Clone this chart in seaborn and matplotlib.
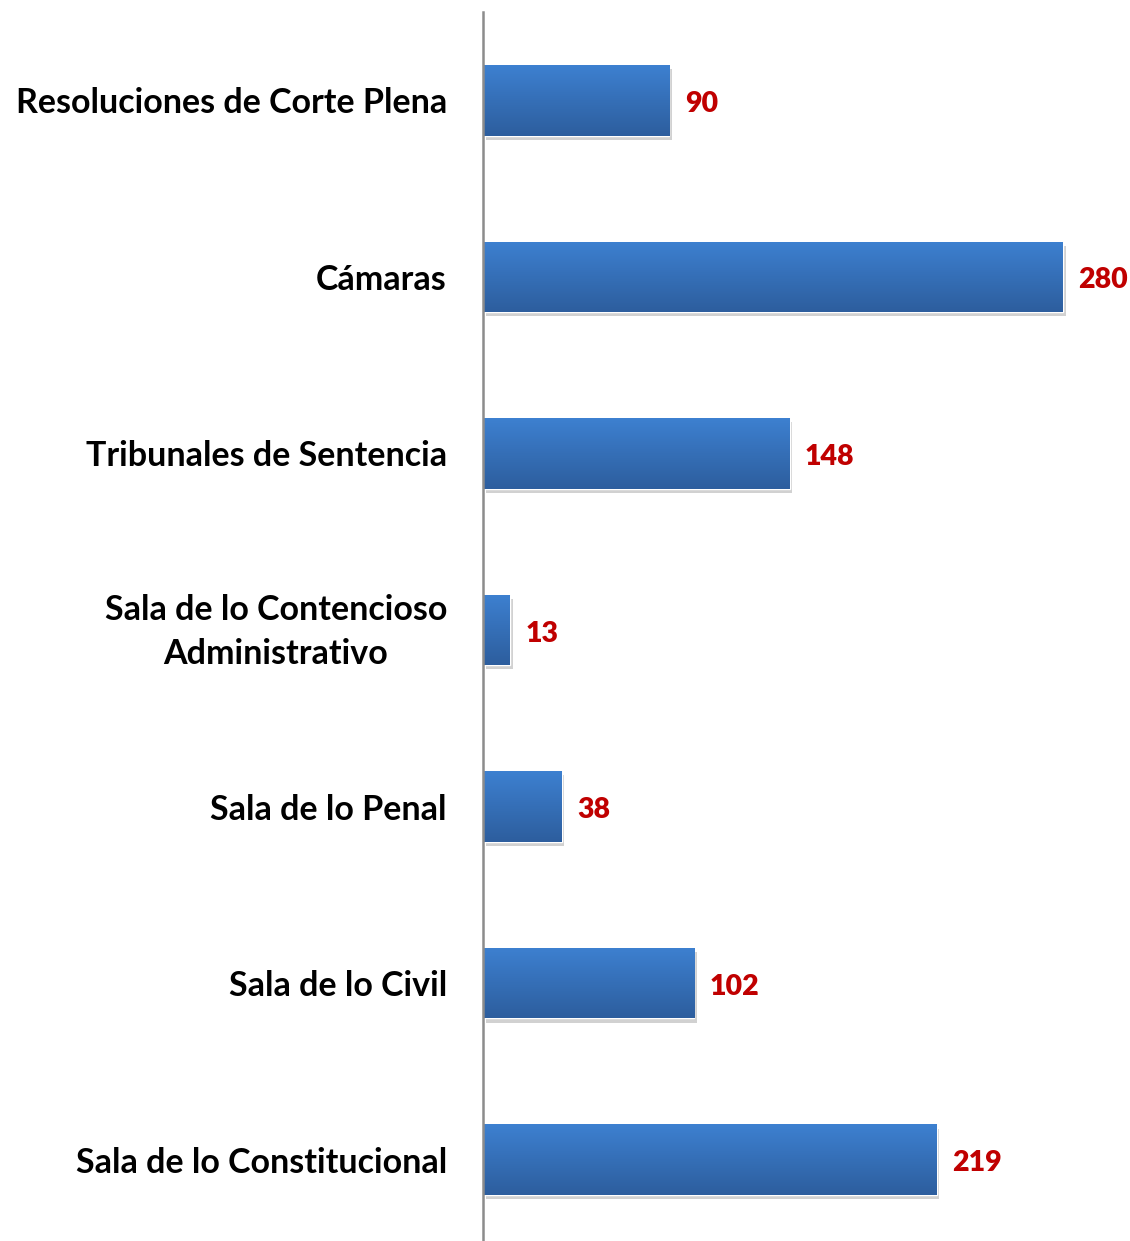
import matplotlib
matplotlib.use("Agg")
import matplotlib.pyplot as plt
import matplotlib.patheffects as pe
import matplotlib.transforms as mtrans
import numpy as np
import pandas as pd
import seaborn as sns

# ─── Data ─────────────────────────────────────────────────────────────────────
categories = [
    "Resoluciones de Corte Plena",
    "Cámaras",
    "Tribunales de Sentencia",
    "Sala de lo Contencioso\nAdministrativo",
    "Sala de lo Penal",
    "Sala de lo Civil",
    "Sala de lo Constitucional",
]
values = [90, 280, 148, 13, 38, 102, 219]

df = pd.DataFrame({"categoria": categories, "valor": values})

sns.set_style("white")
plt.rcParams["font.family"] = ["Lato", "DejaVu Sans"]

fig = plt.figure(figsize=(11.3, 12.41), dpi=100)
ax = fig.add_axes([483 / 1130, -7 / 1241, 1 - 483 / 1130, (1241 - 12 + 7) / 1241])

sns.barplot(data=df, x="valor", y="categoria", orient="h", color="#3a78c6",
            width=0.4, ax=ax, saturation=1)

# gradient fill + soft shadow on each bar
grad = np.linspace(0, 1, 64).reshape(-1, 1)
cmap = matplotlib.colors.LinearSegmentedColormap.from_list("bar", ["#3d80d0", "#2d5e9e"])
for bar in ax.patches:
    x0, y0 = bar.get_x(), bar.get_y()
    w, h = bar.get_width(), bar.get_height()
    bar.set_path_effects([pe.SimplePatchShadow(offset=(2, -3), shadow_rgbFace="#000000", alpha=0.18),
                          pe.Normal()])
    im = ax.imshow(grad, extent=[x0, x0 + w, y0 + h, y0], aspect="auto",
                   cmap=cmap, zorder=bar.get_zorder() + 0.1)
    im.set_clip_path(bar)

ax.set_xlim(0, 312.4)
ax.set_ylim(6.5, -0.5)

for i, v in enumerate(values):
    ax.text(v + 7.5, i + 0.02, str(v), color="#c00000", fontsize=20.5, fontweight="heavy",
            va="center", ha="left")

ax.set_xlabel("")
ax.set_ylabel("")
ax.set_xticks([])
ax.tick_params(axis="y", length=0, pad=26)
shift_up = mtrans.ScaledTranslation(0, 7 / 100, fig.dpi_scale_trans)
for lab in ax.get_yticklabels():
    lab.set_fontsize(24.5)
    lab.set_fontweight("bold")
    lab.set_color("black")
    lab.set_multialignment("center")
    lab.set_linespacing(1.45)
    if "\n" in lab.get_text():
        lab.set_transform(lab.get_transform() + shift_up)

for s in ["top", "right", "bottom"]:
    ax.spines[s].set_visible(False)
ax.spines["left"].set_color("#8c8c8c")
ax.spines["left"].set_linewidth(1.8)

fig.savefig("out.png", dpi=100)
